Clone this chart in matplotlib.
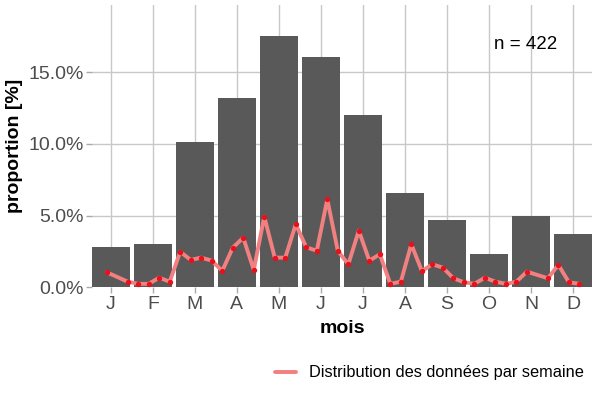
import matplotlib
matplotlib.use("Agg")
import matplotlib.pyplot as plt
from matplotlib.ticker import FuncFormatter

plt.rcParams['font.family'] = ['Liberation Sans', 'DejaVu Sans']

# Data
months = ["J", "F", "M", "A", "M", "J", "J", "A", "S", "O", "N", "D"]
month_pct = [2.80, 3.03, 10.16, 13.23, 17.52, 16.07, 12.04, 6.58, 4.68, 2.30, 4.95, 3.74]

weeks = [1, 3, 4, 5, 6, 7, 8, 9, 10, 11, 12, 13, 14, 15, 16, 17, 18, 19, 20,
         21, 22, 23, 24, 25, 26, 27, 28, 29, 30, 31, 32, 33, 34, 35, 36, 37,
         38, 39, 40, 41, 43, 44, 45, 46]
week_pct = [1.05, 0.39, 0.24, 0.24, 0.67, 0.39, 2.48, 1.91, 2.07, 1.86, 1.14,
            2.76, 3.46, 1.21, 4.93, 2.07, 2.07, 4.40, 2.79, 2.55, 6.14, 2.55,
            1.60, 3.95, 1.86, 2.30, 0.24, 0.39, 3.00, 1.14, 1.60, 1.37, 0.63,
            0.35, 0.24, 0.67, 0.39, 0.24, 0.39, 1.09, 0.63, 1.56, 0.35, 0.24]
n_total = 422

fig = plt.figure(figsize=(6, 4), dpi=100)
ax = fig.add_axes([0.1533, 0.2818, 0.8334, 0.7057])

mx = list(range(1, 13))
ax.bar(mx, month_pct, width=0.9, color='#595959', zorder=2)

wx = [0.65 + w * 0.25 for w in weeks]
ax.plot(wx, week_pct, color='#F28080', lw=2.8, zorder=3, solid_capstyle='round',
        label='Distribution des données par semaine')
ax.scatter(wx, week_pct, s=15, color='#E8101A', zorder=4, linewidths=0)

ax.set_xlim(0.55, 12.45)
ax.set_ylim(0, 19.7)
ax.set_xticks(mx)
ax.set_xticklabels(months)
ax.set_yticks([0, 5, 10, 15])
ax.yaxis.set_major_formatter(FuncFormatter(lambda v, p: f"{v:.1f}%"))

ax.grid(True, color='#C8C8C8', lw=1.0, zorder=0)
ax.set_axisbelow(True)
for s in ax.spines.values():
    s.set_visible(False)
ax.tick_params(axis='both', colors='#AAAAAA', labelcolor='#4D4D4D',
               labelsize=14, length=4, width=1)
ax.tick_params(axis='x', pad=2)
ax.tick_params(axis='y', pad=2)

ax.set_xlabel('mois', fontsize=14, fontweight='bold', labelpad=5)
ax.set_ylabel('proportion [%]', fontsize=14, fontweight='bold', labelpad=4)

ax.text(0.93, 0.86, f"n = {n_total}", transform=ax.transAxes, fontsize=13.5,
        ha='right', va='center', color='black')

leg = fig.legend(loc='center right', bbox_to_anchor=(0.998, 0.068), frameon=False,
                 fontsize=11.8, handlelength=1.3, handletextpad=0.8)

fig.savefig('out.png', dpi=100)
